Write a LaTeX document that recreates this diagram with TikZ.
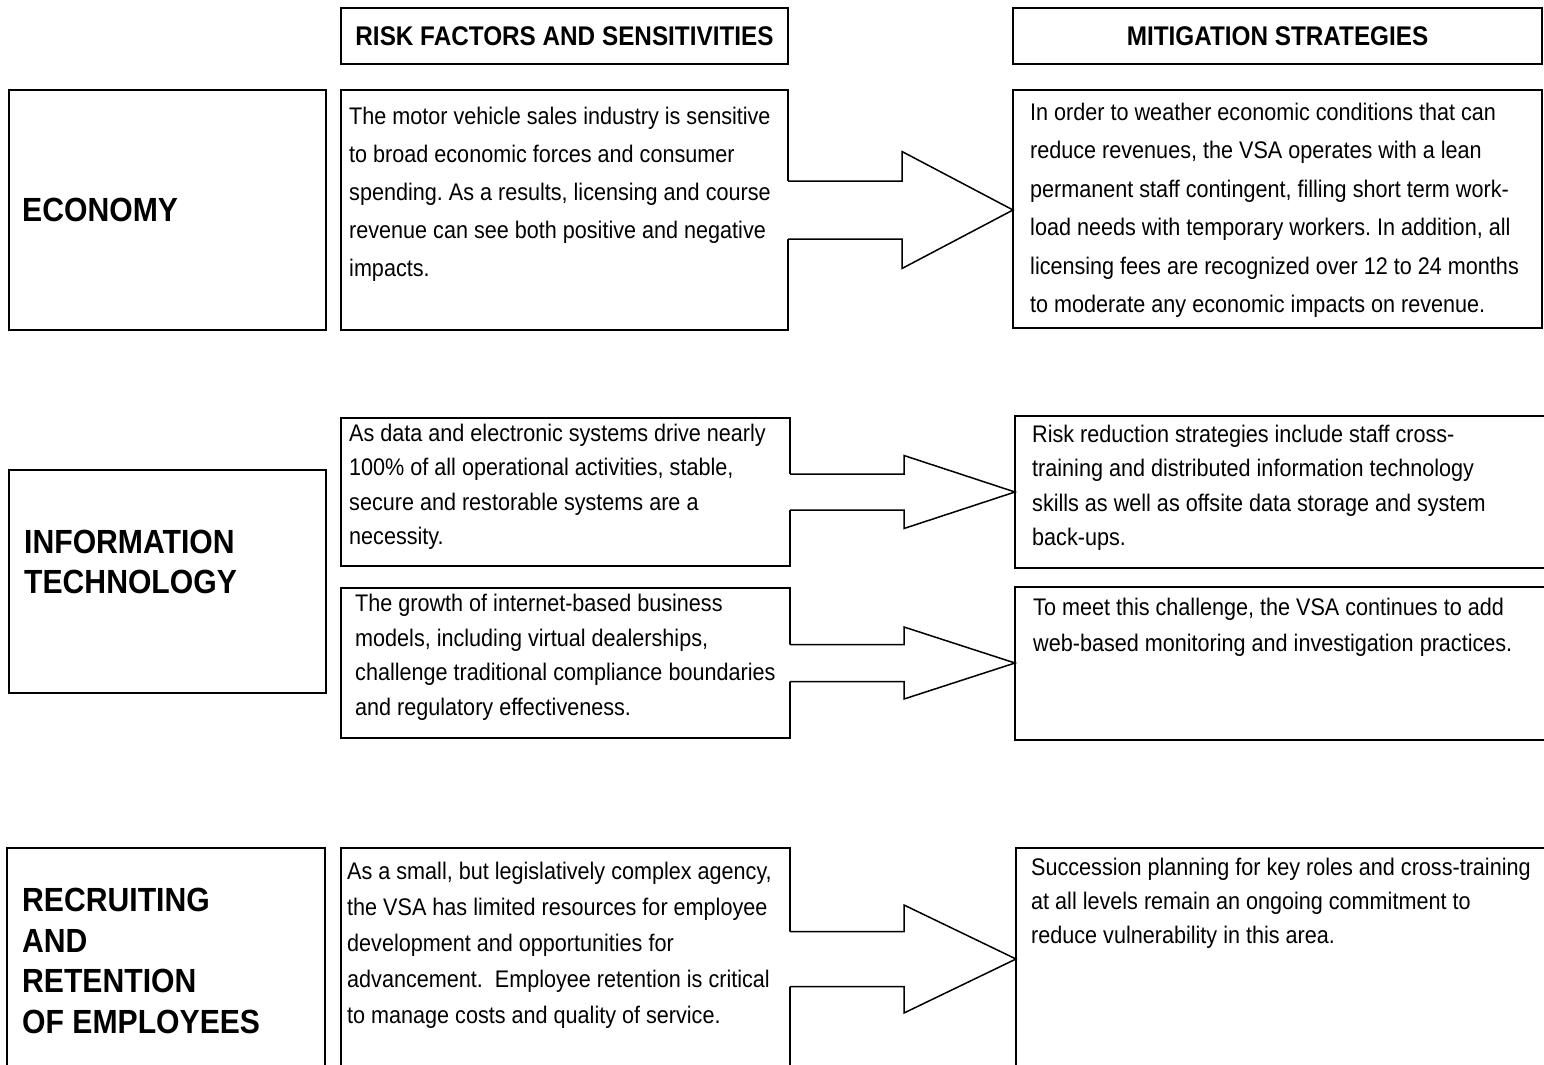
\documentclass[tikz,border=0pt]{standalone}
\usepackage{fontspec}
\setmainfont[FakeStretch=0.9]{Liberation Sans}
\usepackage{tikz}
\usetikzlibrary{calc,positioning}
\frenchspacing

\newcommand{\riskarrow}[4]{%
  \fill[white] ($(#1.east)+(-1,-#3)$) -- ($(#1.east)+(114,-#3)$) -- ($(#1.east)+(114,-#4)$)
    -- (#2.west |- #1.east) -- ($(#1.east)+(114,#4)$) -- ($(#1.east)+(114,#3)$) -- ($(#1.east)+(-1,#3)$) -- cycle;
  \draw[line width=1.5pt] ($(#1.east)+(0,-#3)$) -- ($(#1.east)+(114,-#3)$) -- ($(#1.east)+(114,-#4)$)
    -- (#2.west |- #1.east) -- ($(#1.east)+(114,#4)$) -- ($(#1.east)+(114,#3)$) -- ($(#1.east)+(0,#3)$);
}

\begin{document}
\begin{tikzpicture}[x=1pt,y=-1pt,
    frame/.style={draw=black, line width=1.5pt, fill=white, anchor=north west, inner sep=0pt, outer sep=0pt},
    body/.style={anchor=north west, align=left, inner sep=0pt, font=\fontsize{24}{#1}\selectfont},
    title/.style={anchor=west, align=left, inner sep=0pt, font=\fontsize{33.5}{40.5}\selectfont\bfseries},
    colhead/.style={inner sep=0pt, font=\fontsize{27}{32}\selectfont\bfseries}]
    \clip (0,0) rectangle (1544,1065);
    \fill[white] (0,0) rectangle (1544,1065);

    \node[frame, minimum width=447, minimum height=56] (risk-head) at (341,8) {};
    \node[frame, minimum width=529, minimum height=56] (mit-head) at (1013,8) {};
    \node[colhead] (risk-head-txt) at (risk-head.center) {RISK FACTORS AND SENSITIVITIES};
    \node[colhead] (mit-head-txt) at (mit-head.center) {MITIGATION STRATEGIES};

    \node[frame, minimum width=317, minimum height=240] (eco) at (9,90) {};
    \node[frame, minimum width=447, minimum height=240] (eco-risk) at (341,90) {};
    \node[frame, minimum width=529, minimum height=238] (eco-mit) at (1013,90) {};
    \node[title] (eco-txt) at (22,210) {ECONOMY};
    \node[body=38] (eco-risk-txt) at ($(eco-risk.north west)+(8,17)$) {The motor vehicle sales industry is sensitive\\
        to broad economic forces and consumer\\
        spending. As a results, licensing and course\\
        revenue can see both positive and negative\\
        impacts.};
    \node[body=38.4] (eco-mit-txt) at ($(eco-mit.north west)+(17,13)$) {In order to weather economic conditions that can\\
        reduce revenues, the VSA operates with a lean\\
        permanent staff contingent, filling short term work-\\
        load needs with temporary workers. In addition, all\\
        licensing fees are recognized over 12 to 24 months\\
        to moderate any economic impacts on revenue.};

    \node[frame, minimum width=317, minimum height=223] (it) at (9,470) {};
    \node[frame, minimum width=449, minimum height=148] (it-risk-a) at (341,418) {};
    \node[frame, minimum width=449, minimum height=150] (it-risk-b) at (341,588) {};
    \node[frame, minimum width=540, minimum height=152] (it-mit-a) at (1015,416) {};
    \node[frame, minimum width=540, minimum height=153] (it-mit-b) at (1015,587) {};
    \node[title] (it-txt) at (24,562) {INFORMATION\\TECHNOLOGY};
    \node[body=34.4] (it-risk-a-txt) at ($(it-risk-a.north west)+(8,6)$) {As data and electronic systems drive nearly\\
        100\% of all operational activities, stable,\\
        secure and restorable systems are a\\
        necessity.};
    \node[body=34.5] (it-risk-b-txt) at ($(it-risk-b.north west)+(14,6)$) {The growth of internet-based business\\
        models, including virtual dealerships,\\
        challenge traditional compliance boundaries\\
        and regulatory effectiveness.};
    \node[body=34.4] (it-mit-a-txt) at ($(it-mit-a.north west)+(17,9)$) {Risk reduction strategies include staff cross-\\
        training and distributed information technology\\
        skills as well as offsite data storage and system\\
        back-ups.};
    \node[body=36] (it-mit-b-txt) at ($(it-mit-b.north west)+(18,11)$) {To meet this challenge, the VSA continues to add\\
        web-based monitoring and investigation practices.};

    \node[frame, minimum width=318, minimum height=240] (staff) at (7,848) {};
    \node[frame, minimum width=449, minimum height=222] (staff-risk) at (341,848) {};
    \node[frame, minimum width=540, minimum height=240] (staff-mit) at (1016,848) {};
    \node[title] (staff-txt) at (22,961) {RECRUITING\\AND\\RETENTION\\OF EMPLOYEES};
    \node[body=36] (staff-risk-txt) at ($(staff-risk.north west)+(6,14)$) {As a small, but legislatively complex agency,\\
        the VSA has limited resources for employee\\
        development and opportunities for\\
        advancement.~ Employee retention is critical\\
        to manage costs and quality of service.};
    \node[body=34] (staff-mit-txt) at ($(staff-mit.north west)+(15,10)$) {Succession planning for key roles and cross-training\\
        at all levels remain an ongoing commitment to\\
        reduce vulnerability in this area.};

    \riskarrow{eco-risk}{eco-mit}{29}{58.5}
    \riskarrow{it-risk-a}{it-mit-a}{18}{36.5}
    \riskarrow{it-risk-b}{it-mit-b}{18.5}{36}
    \riskarrow{staff-risk}{staff-mit}{27.5}{54}
\end{tikzpicture}
\end{document}
